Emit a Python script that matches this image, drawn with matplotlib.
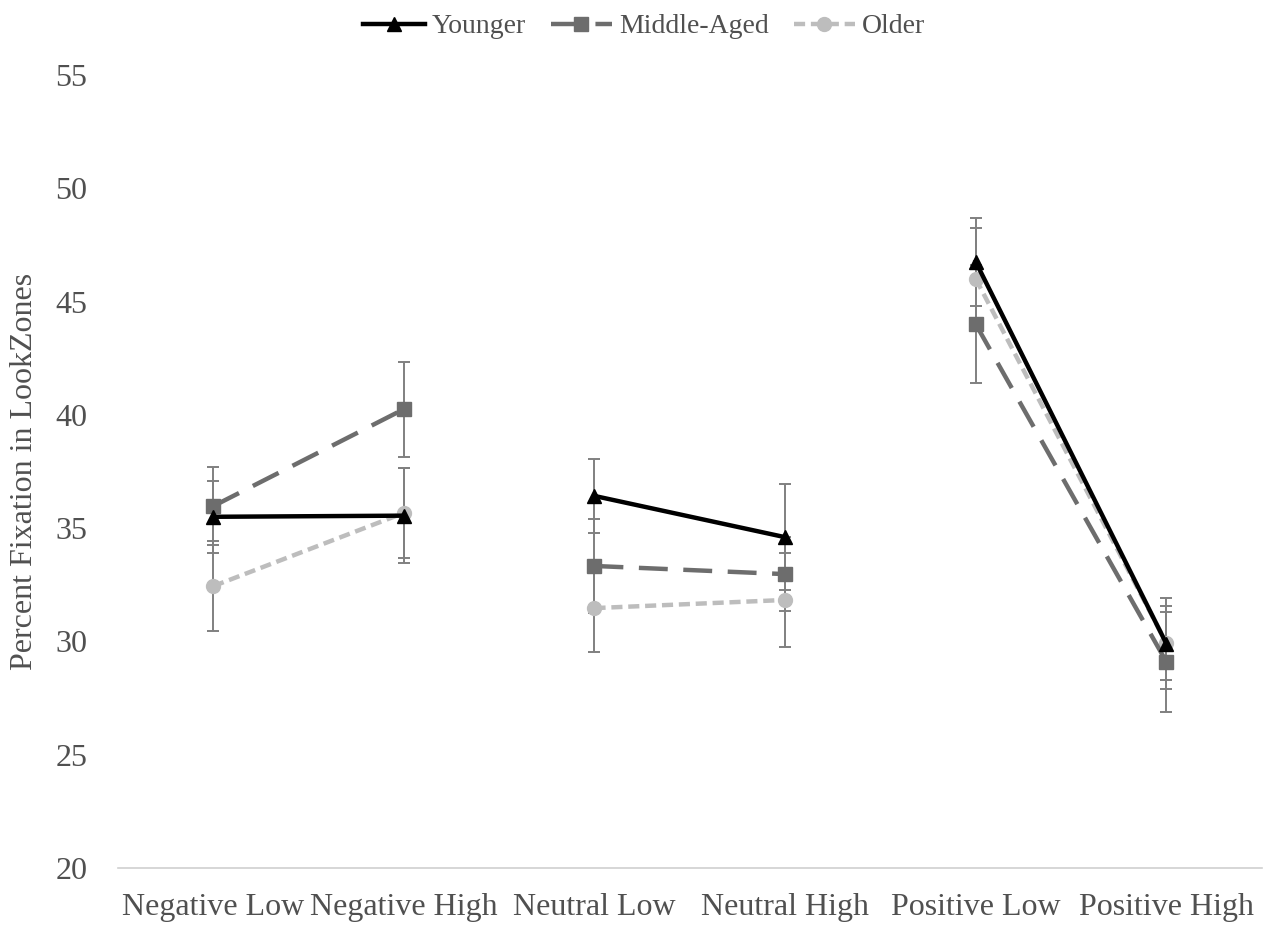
import matplotlib.pyplot as plt
import numpy as np

categories = ["Negative Low", "Negative High", "Neutral Low", "Neutral High",
              "Positive Low", "Positive High"]
younger = [35.5, 35.55, 36.42, 34.6, 46.75, 29.9]
younger_err = [1.58, 2.1, 1.65, 2.35, 1.95, 2.0]
middle = [35.97, 40.25, 33.33, 32.97, 44.0, 29.1]
middle_err = [1.72, 2.1, 2.07, 1.63, 2.6, 2.2]
older = [32.44, 35.67, 31.47, 31.83, 46.0, 29.93]
older_err = [1.98, 1.98, 1.94, 2.08, 2.25, 1.63]

plt.rcParams['font.family'] = ['Liberation Serif', 'DejaVu Serif']

fig = plt.figure(figsize=(12.68, 9.25), dpi=100)
ax = fig.add_axes([0.093, 0.0616, 0.902, 0.8574])
x = np.arange(len(categories))

ecol = '#808080'
# error bars first so the lines sit on top
for vals, errs in [(younger, younger_err), (middle, middle_err), (older, older_err)]:
    ax.errorbar(x, vals, yerr=errs, fmt='none', ecolor=ecol,
                elinewidth=1.4, capsize=4, capthick=1.4, zorder=2)

# three separate pairs, not joined across groups
segs = [(0, 2), (2, 4), (4, 6)]
for i, (a, b) in enumerate(segs):
    ax.plot(x[a:b], older[a:b], color='#bdbdbd', lw=3.2, dashes=(2.5, 1.3),
            marker='o', markersize=10, label='Older' if i == 0 else None, zorder=3)
    ax.plot(x[a:b], middle[a:b], color='#6d6d6d', lw=3.2, dashes=(6.5, 3.5),
            marker='s', markersize=10, label='Middle-Aged' if i == 0 else None, zorder=4)
    ax.plot(x[a:b], younger[a:b], color='black', lw=3.2,
            marker='^', markersize=10, label='Younger' if i == 0 else None, zorder=5)

ax.set_xlim(-0.5, 5.5)
ax.set_ylim(20, 55)
ax.set_yticks(np.arange(20, 56, 5))
ax.set_xticks(x)
ax.set_xticklabels(categories)
ax.tick_params(axis='both', length=0, labelsize=23, colors='#505050')
ax.tick_params(axis='y', pad=22)
ax.tick_params(axis='x', pad=18)
for s in ['top', 'right', 'left']:
    ax.spines[s].set_visible(False)
ax.spines['bottom'].set_color('#d0d0d0')
ax.spines['bottom'].set_linewidth(1.2)
ax.set_ylabel('Percent Fixation in LookZones', fontsize=23, color='#505050')
ax.yaxis.set_label_coords(-0.069, 0.5)

h, l = ax.get_legend_handles_labels()
order = [l.index('Younger'), l.index('Middle-Aged'), l.index('Older')]
fig.legend([h[i] for i in order], [l[i] for i in order], loc='upper center',
           bbox_to_anchor=(0.508, 1.012), ncol=3, frameon=False, fontsize=20,
           handlelength=2.2, handletextpad=0.25, columnspacing=0.9,
           labelcolor='#505050')

fig.savefig('out.png', dpi=100)
